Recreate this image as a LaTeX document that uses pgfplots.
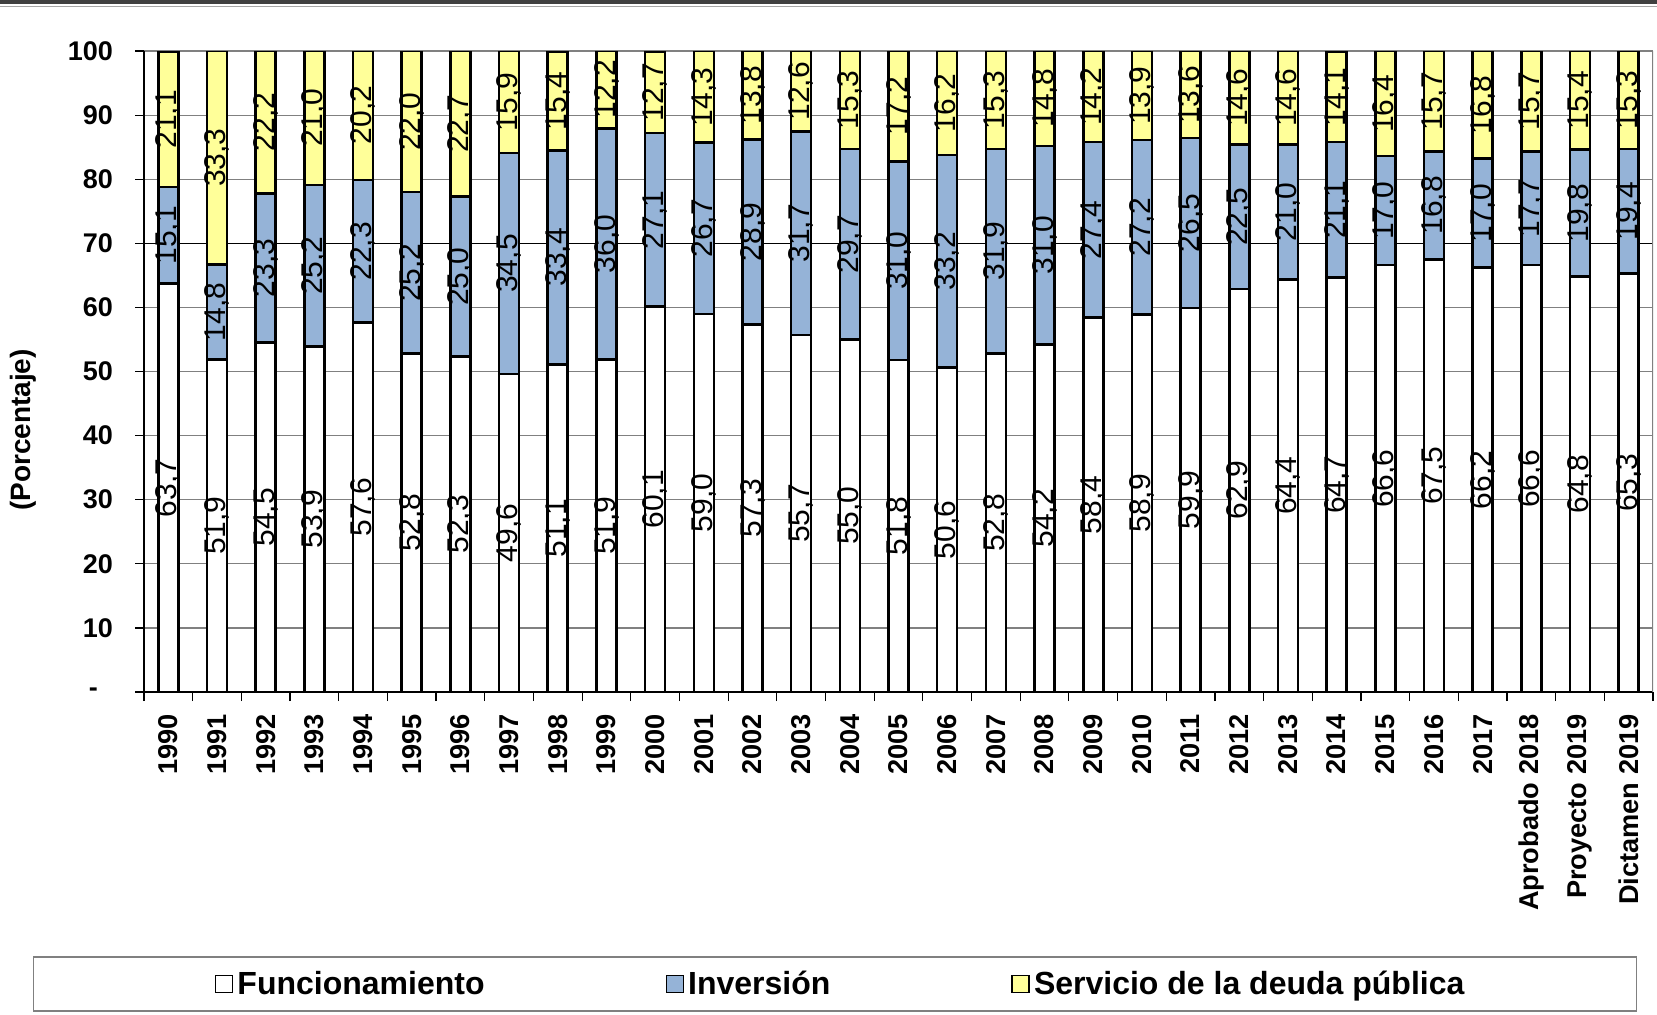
\documentclass[border=0pt]{standalone}
\usepackage{pgfplots}
\usepackage{pgfplotstable}
\pgfplotsset{compat=1.18}
\usepackage{fontspec}
\setmainfont{Liberation Sans}
\definecolor{invblue}{HTML}{95B3D7}
\definecolor{servyel}{HTML}{FFFF99}
\definecolor{topband}{HTML}{404040}

\pgfplotstableread{
x f i s
0 63.7 15.1 21.1
1 51.9 14.8 33.3
2 54.5 23.3 22.2
3 53.9 25.2 21.0
4 57.6 22.3 20.2
5 52.8 25.2 22.0
6 52.3 25.0 22.7
7 49.6 34.5 15.9
8 51.1 33.4 15.4
9 51.9 36.0 12.2
10 60.1 27.1 12.7
11 59.0 26.7 14.3
12 57.3 28.9 13.8
13 55.7 31.7 12.6
14 55.0 29.7 15.3
15 51.8 31.0 17.2
16 50.6 33.2 16.2
17 52.8 31.9 15.3
18 54.2 31.0 14.8
19 58.4 27.4 14.2
20 58.9 27.2 13.9
21 59.9 26.5 13.6
22 62.9 22.5 14.6
23 64.4 21.0 14.6
24 64.7 21.1 14.1
25 66.6 17.0 16.4
26 67.5 16.8 15.7
27 66.2 17.0 16.8
28 66.6 17.7 15.7
29 64.8 19.8 15.4
30 65.3 19.4 15.3
}\data

\pgfplotsset{
  common/.style={
    at={(72pt,161pt)}, anchor=south west,
    scale only axis, width=754.5pt, height=320.5pt,
    xmin=-0.5, xmax=30.5, ymin=0, ymax=100,
  },
  vlabel/.style={
    draw=none, mark=none,
    nodes near coords={\pgfmathprintnumber[fixed,fixed zerofill,precision=1,use comma,assume math mode=true]{\pgfplotspointmeta}},
    every node near coord/.append style={anchor=center, rotate=90, inner sep=0pt, text=black, font=\fontsize{15}{18}\selectfont},
    point meta=explicit,
  },
}

\begin{document}
\begin{tikzpicture}
\useasboundingbox (0,0) rectangle (828.5pt,507pt);
\fill[topband] (0,505pt) rectangle (828.5pt,507pt);
\draw[gray!70, line width=0.5pt] (0,503.5pt) -- (828.5pt,503.5pt);

\begin{axis}[
  common,
  ybar stacked, bar width=10pt,
  axis x line*=bottom, axis y line*=left,
  axis line style={black, line width=0.8pt},
  tick align=outside,
  xtick={0,...,30},
  xticklabels={1990,1991,1992,1993,1994,1995,1996,1997,1998,1999,2000,2001,2002,2003,2004,2005,2006,2007,2008,2009,2010,2011,2012,2013,2014,2015,2016,2017,Aprobado 2018,Proyecto 2019,Dictamen 2019},
  major x tick style={draw=none},
  minor xtick={-0.5,0.5,...,30.5},
  minor x tick style={black, line width=0.6pt},
  minor tick length=4.5pt, major tick length=4.5pt,
  ytick={0,10,...,100},
  yticklabels={{-\hspace*{7.5pt}},10,20,30,40,50,60,70,80,90,100},
  y tick style={black, line width=0.6pt},
  extra y ticks={70},
  extra y tick labels={},
  extra y tick style={grid style={black, line width=0.6pt}},
  ymajorgrids, grid style={gray, line width=0.6pt},
  xticklabel style={yshift=-6.5pt, rotate=90, anchor=east, inner sep=0pt, font=\fontsize{13.6}{16}\selectfont\bfseries},
  yticklabel style={anchor=east, xshift=-7.5pt, font=\fontsize{13.5}{16}\selectfont\bfseries},
  ylabel={(Porcentaje)},
  ylabel style={at={(rel axis cs:-0.0802,0.4087)}, anchor=center, font=\fontsize{14}{16}\selectfont\bfseries},
  legend columns=3,
  legend style={at={(0.4579,-0.4555)}, anchor=center, draw=gray, line width=0.8pt,
    font=\fontsize{16}{19}\selectfont\bfseries,
    inner xsep=84pt, inner ysep=5pt,
    /tikz/every even column/.append style={column sep=88.5pt}},
  legend image code/.code={\draw[#1, line width=0.8pt, draw=black] (0pt,-4.2pt) rectangle (8.5pt,4.2pt);},
]
\addplot[fill=white, draw=black, line width=1.3pt,
  legend image code/.code={\path (-6.4pt,0pt); \draw[##1, line width=0.8pt, draw=black] (0pt,-4.2pt) rectangle (8.5pt,4.2pt);}]
  table[x=x,y=f]{\data};
\addplot[fill=invblue, draw=black, line width=1.3pt] table[x=x,y=i]{\data};
\addplot[fill=servyel, draw=black, line width=1.3pt] table[x=x,y=s]{\data};
\legend{Funcionamiento,Inversión,Servicio de la deuda pública}
\draw[gray, line width=0.6pt] (rel axis cs:1,0) -- (rel axis cs:1,1);
\end{axis}

\begin{axis}[common, hide axis]
\addplot[vlabel] table[x=x, y expr=\thisrow{f}/2, meta=f]{\data};
\addplot[vlabel] table[x=x, y expr=\thisrow{f}+\thisrow{i}/2, meta=i]{\data};
\addplot[vlabel] table[x=x, y expr=\thisrow{f}+\thisrow{i}+\thisrow{s}/2, meta=s]{\data};
\end{axis}
\end{tikzpicture}
\end{document}
